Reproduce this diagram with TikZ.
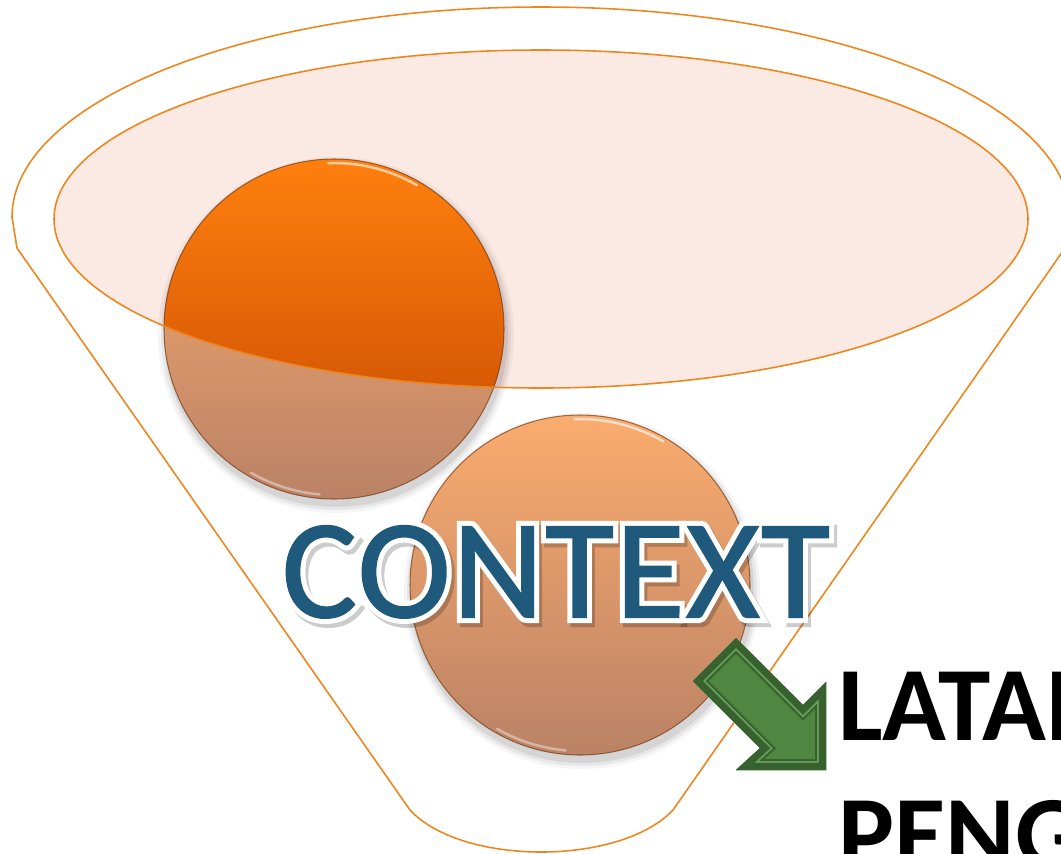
\documentclass[tikz,border=0pt]{standalone}
\usepackage{fontspec}
\newfontfamily\calibfont{Carlito}
\newfontfamily\calibblue[FakeBold=1.4, LetterSpace=1.4]{Carlito}
\newfontfamily\calibrim[FakeBold=8.5, LetterSpace=1.4]{Carlito}
\usepackage{tikz}
\usetikzlibrary{calc}
\definecolor{funnelline}{RGB}{238,134,30}
\definecolor{funnelpink}{RGB}{251,233,227}
\definecolor{hottop}{RGB}{255,128,14}
\definecolor{hotmid}{RGB}{238,102,2}
\definecolor{hotbot}{RGB}{196,70,0}
\definecolor{softtop}{RGB}{251,172,110}
\definecolor{softmid}{RGB}{226,150,106}
\definecolor{softbot}{RGB}{186,130,102}
\definecolor{ballrim}{RGB}{120,60,20}
\definecolor{contextblue}{RGB}{31,89,124}
\definecolor{arrowgreen}{RGB}{78,134,66}
\definecolor{arrowdark}{RGB}{55,97,46}
\definecolor{arrowlight}{RGB}{104,158,88}
\newcommand\ctxfont{\calibblue\fontsize{80}{80}\selectfont}
\newcommand\ctxrimfont{\calibrim\fontsize{80}{80}\selectfont}
\newcommand\latfont{\calibfont\bfseries\fontsize{60}{73}\selectfont}

\begin{document}
\begin{tikzpicture}[x=0.02cm, y=-0.02cm, every node/.style={inner sep=0, outer sep=0}, funnel/.style={draw=funnelline, line width=0.9pt}, hotball/.style={top color=hottop, middle color=hotmid, bottom color=hotbot}, softball/.style={top color=softtop, middle color=softmid, bottom color=softbot}, rim/.style={draw=ballrim, line width=0.6pt, opacity=0.7}, gloss/.style={white, line width=1.4pt, opacity=0.6, line cap=round}]
  \useasboundingbox (0,0) rectangle (1061,853);
  \clip (0,0) rectangle (1061,853);
  \coordinate (O) at (541,219);
  \coordinate (P) at (334,329);
  \coordinate (Q) at (580,585);
  \draw [funnel] (12,217) arc [start angle=180, end angle=360, x radius=529, y radius=210] -- (1065,248) -- (673,810) .. controls (620,866) and (462,866) .. (410,810) -- (17,248) -- cycle;
  \fill [funnelpink] (O) ellipse [x radius=487, y radius=169];
  \foreach \c in {P,Q} {
    \foreach \r/\o in {178/0.04, 175/0.06, 172/0.08} {\fill [black, opacity=\o] ($(\c)+(2,6)$) circle [radius=\r];}
    \shade [softball] (\c) circle [radius=170];
  }
  \begin{scope}
    \clip (O) ellipse [x radius=487, y radius=169];
    \shade [hotball] (P) circle [radius=170];
  \end{scope}
  \foreach \c in {P,Q} {
    \draw [rim] (\c) circle [radius=170];
    \draw [gloss] (\c) ++(-92:166) arc [start angle=-92, end angle=-60, radius=166];
    \draw [gloss, opacity=0.4] (\c) ++(95:166) arc [start angle=95, end angle=120, radius=166];
  }
  \draw [funnel] (O) ellipse [x radius=487, y radius=169];
  \node [anchor=base west, black, opacity=0.2, font=\ctxrimfont] at (285,621) {CONTEXT};
  \node [anchor=base west, white, font=\ctxrimfont] at (282,617) {CONTEXT};
  \node [anchor=base west, contextblue, font=\ctxfont] (context) at (282,617) {CONTEXT};
  \def\arrowpath{(736,638) -- (803,705) -- (826,682) -- (826,770) -- (736,770) -- (760,748) -- (693,681) -- cycle}
  \fill [arrowgreen] \arrowpath;
  \begin{scope}
    \clip \arrowpath;
    \foreach \w/\k in {12.5pt/arrowdark, 10.2pt/arrowlight, 8pt/arrowdark} {\draw [\k, line width=\w, line join=miter] \arrowpath;}
  \end{scope}
  \node [anchor=base west, font=\latfont] (latar) at (838,740) {LATAR};
  \node [anchor=base west, font=\latfont] (peng) at (838,869) {PENGETAHUAN};
\end{tikzpicture}
\end{document}
